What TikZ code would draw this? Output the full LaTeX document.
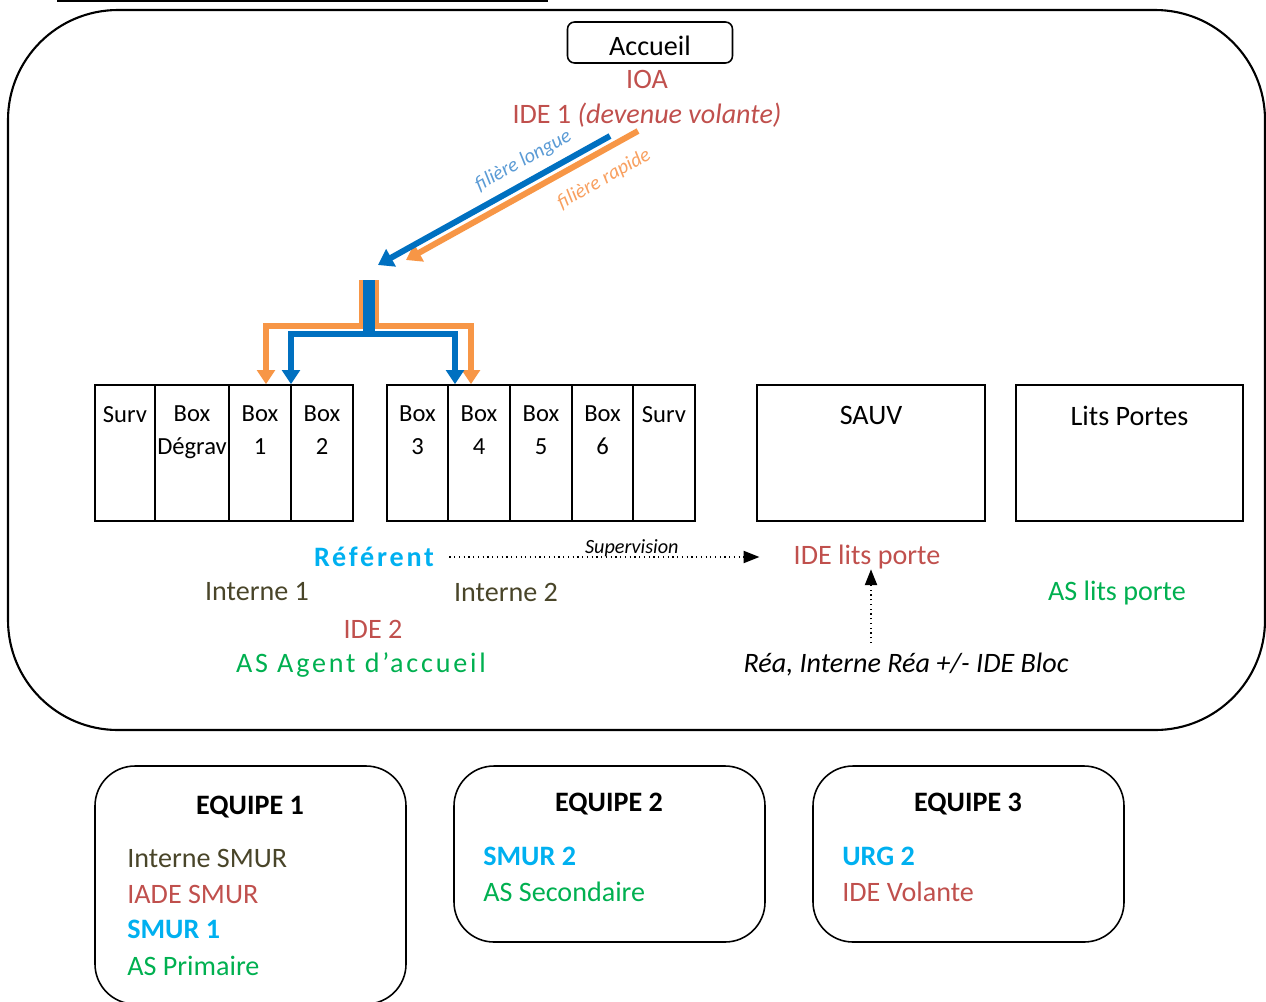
\documentclass[tikz,border=0pt]{standalone}
\usepackage{fontspec}
\setmainfont{Carlito}
\usetikzlibrary{arrows.meta,fit,positioning}
\definecolor{ideRed}{HTML}{C0504D}
\definecolor{refBlue}{HTML}{00B0F0}
\definecolor{asGreen}{HTML}{00B050}
\definecolor{intOlive}{HTML}{494529}
\definecolor{longBlue}{HTML}{0070C0}
\definecolor{fastOrange}{HTML}{F79646}
\definecolor{longTxt}{HTML}{5B9BD5}
\definecolor{fastTxt}{HTML}{F8A060}
\tikzset{
  every node/.style={inner sep=0pt, font=\fontsize{16}{19}\selectfont},
  cell/.style={draw, line width=0.9pt, inner sep=0pt, fit={#1}},
  celltxt/.style={anchor=north, align=center, yshift=-0.43cm, font=\fontsize{14}{18.3}\selectfont},
  teambox/.style={draw, line width=0.9pt, rounded corners=0.8cm, inner sep=0pt, fit={#1}},
  teamtitle/.style={font=\fontsize{16}{19}\selectfont\bfseries},
  member/.style={anchor=west},
  spaced/.style={font=\fontsize{16}{19}\selectfont\addfontfeature{LetterSpace=10}},
  diagflow/.style={line width=3.4pt, -{Triangle[width=11pt,length=8.5pt]}},
  branchflow/.style={line width=3.6pt, -{Triangle[width=10pt,length=8pt]}},
  dotarrow/.style={dotted, line width=0.7pt, -{Triangle[width=7pt,length=9pt]}},
  pathlbl/.style={font=\fontsize{11.5}{13}\selectfont\itshape}
}
\begin{document}
\begin{tikzpicture}[x=0.02cm,y=-0.02cm]
\useasboundingbox (0,0) rectangle (1266,1001);
\draw[line width=1.2pt] (57,1) -- (548,1);
\draw[line width=1.2pt, rounded corners=2.2cm] (8,10) rectangle (1265,730);

\node[draw, line width=0.9pt, rounded corners=4pt, minimum width=3.3cm, minimum height=0.82cm] (accueil) at (650,42.5){};
\node (acctxt) at (650,46){Accueil};
\node[ideRed] (ioa) at (647,79){IOA};
\node[ideRed] (ide1) at (647,115){IDE 1 \textit{(devenue volante)}};

\node[cell={(95,385)(155,521)}] (surv1){};
\node[cell={(155,385)(229,521)}] (degrav){};
\node[cell={(229,385)(291,521)}] (box1){};
\node[cell={(291,385)(353,521)}] (box2){};
\node[cell={(387,385)(448,521)}] (box3){};
\node[cell={(448,385)(510,521)}] (box4){};
\node[cell={(510,385)(572,521)}] (box5){};
\node[cell={(572,385)(633,521)}] (box6){};
\node[cell={(633,385)(695,521)}] (surv2){};
\node[celltxt] at (surv1.north){Surv};
\node[celltxt] at (degrav.north){Box\\Dégrav};
\node[celltxt] at (box1.north){Box\\1};
\node[celltxt] at (box2.north){Box\\2};
\node[celltxt] at (box3.north){Box\\3};
\node[celltxt] at (box4.north){Box\\4};
\node[celltxt] at (box5.north){Box\\5};
\node[celltxt] at (box6.north){Box\\6};
\node[celltxt] at (surv2.north){Surv};

\node[cell={(757,385)(985,521)}] (sauv){};
\node[cell={(1016,385)(1243,521)}] (litsp){};
\node[celltxt, font=\fontsize{16}{19}\selectfont] at (sauv.north){SAUV};
\node[celltxt, font=\fontsize{16}{19}\selectfont] at (litsp.north){Lits Portes};

\coordinate (lstart) at (610,136);
\coordinate (lend) at (378,265);
\coordinate (rstart) at (638,131);
\coordinate (rend) at (406,260);
\draw[diagflow, fastOrange] (rstart) -- (rend) node[pathlbl, fastTxt, sloped, below=8pt, pos=0.2]{filière rapide};
\draw[diagflow, longBlue] (lstart) -- (lend) node[pathlbl, longTxt, sloped, above=5pt, pos=0.33]{filière longue};

\coordinate (split) at (369,280);
\draw[branchflow, fastOrange] ([xshift=-0.14cm]split) |- (266,326) -- (266,0 |- box1.north);
\draw[branchflow, fastOrange] ([xshift=0.14cm]split) |- (471,326) -- (471,0 |- box4.north);
\draw[branchflow, longBlue] ([xshift=-0.06cm]split) |- (291,334) -- (291,0 |- box1.north);
\draw[branchflow, longBlue] ([xshift=0.06cm]split) |- (455,334) -- (455,0 |- box4.north);

\node[refBlue, font=\fontsize{16}{19}\selectfont\bfseries\addfontfeature{LetterSpace=10}] (referent) at (374,557){Référent};
\node[ideRed] (idelits) at (867,557){IDE lits porte};
\draw[dotarrow, shorten <=0.3cm, shorten >=0.68cm] (referent.east) -- (idelits.west) node[pos=0.55, above=0pt, font=\fontsize{11.5}{13}\selectfont\itshape]{Supervision};
\node[intOlive] (int1) at (257,592){Interne 1};
\node[intOlive] (int2) at (506,592){Interne 2};
\node[ideRed] (ide2) at (373,629){IDE 2};
\node[asGreen, spaced] (asaccueil) at (361,665){AS Agent d’accueil};
\node[asGreen] (aslits) at (1117,593){AS lits porte};
\node[font=\fontsize{16}{19}\selectfont\itshape] (rea) at (906,665){Réa, Interne Réa +/- IDE Bloc};
\draw[dotarrow] (rea.north -| sauv.south) ++(0,0.2cm) coordinate (reatop) -- (idelits.south -| sauv.south);

\node[teambox={(95,766)(406,1004)}] (eq1){};
\node[teambox={(454,766)(765,942)}] (eq2){};
\node[teambox={(813,766)(1124,942)}] (eq3){};
\node[teamtitle] at (250,807){EQUIPE 1};
\node[member, intOlive] at (127,858){Interne SMUR};
\node[member, ideRed] at (127,894){IADE SMUR};
\node[member, refBlue, font=\fontsize{16}{19}\selectfont\bfseries] at (127,929){SMUR 1};
\node[member, asGreen] at (127,966){AS Primaire};
\node[teamtitle] at (609,804){EQUIPE 2};
\node[member, refBlue, font=\fontsize{16}{19}\selectfont\bfseries] at (483,856){SMUR 2};
\node[member, asGreen] at (483,892){AS Secondaire};
\node[teamtitle] at (968,804){EQUIPE 3};
\node[member, refBlue, font=\fontsize{16}{19}\selectfont\bfseries] at (842,856){URG 2};
\node[member, ideRed] at (842,892){IDE Volante};
\end{tikzpicture}
\end{document}
